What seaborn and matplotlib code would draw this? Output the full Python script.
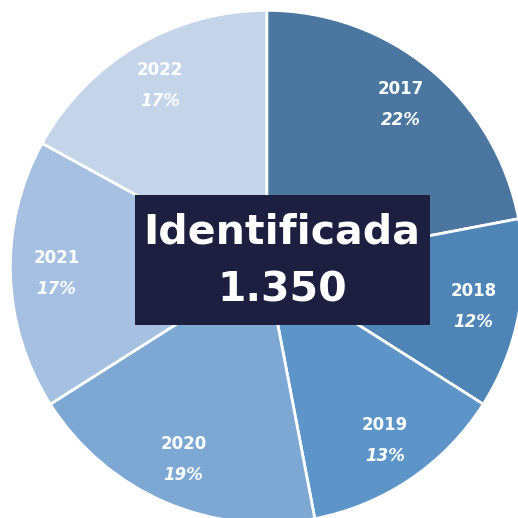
import numpy as np
import seaborn as sns
import matplotlib.pyplot as plt
from matplotlib.patches import Rectangle

years = ['2017', '2018', '2019', '2020', '2021', '2022']
shares = [22, 12, 13, 19, 17, 17]
colors = ['#4a76a0', '#4f84b6', '#5e95c8', '#7da8d4', '#a5c0e0', '#c4d5ea']
center_title = 'Identificada'
center_value = '1.350'

sns.set_style('white')
fig = plt.figure(figsize=(5.18, 5.18), dpi=100)
# pie slightly larger than the canvas, clipped right/bottom like the reference
ax = fig.add_axes([0.02, -0.01, 0.99, 0.99])

wedges, _ = ax.pie(shares, colors=sns.color_palette(colors), startangle=90,
                   counterclock=False,
                   wedgeprops=dict(edgecolor='white', linewidth=2))
ax.set_aspect('equal')
ax.set_xlim(-1.0, 1.0)
ax.set_ylim(-1.0, 1.0)

# year (upright) and share (italic) labels placed along each wedge's mid angle
for w, y, s in zip(wedges, years, shares):
    ang = np.deg2rad((w.theta1 + w.theta2) / 2)
    x0, y0 = 0.82 * np.cos(ang), 0.82 * np.sin(ang)
    ax.text(x0, y0 + 0.06, y, color='white', fontsize=12, fontweight='bold',
            ha='center', va='center')
    ax.text(x0, y0 - 0.06, f'{s}%', color='white', fontsize=12, fontweight='bold',
            fontstyle='italic', ha='center', va='center')

fig.patches.append(Rectangle((135 / 518, 1 - 325 / 518), 295 / 518, 130 / 518,
                             transform=fig.transFigure, facecolor='#1c1f40',
                             edgecolor='none', zorder=5))
fig.text(282 / 518, 1 - 233 / 518, center_title, color='white', fontsize=29.5,
         fontweight='bold', ha='center', va='center', zorder=6)
fig.text(282 / 518, 1 - 291 / 518, center_value, color='white', fontsize=29.5,
         fontweight='bold', ha='center', va='center', zorder=6)

fig.savefig('out.png', dpi=100)
